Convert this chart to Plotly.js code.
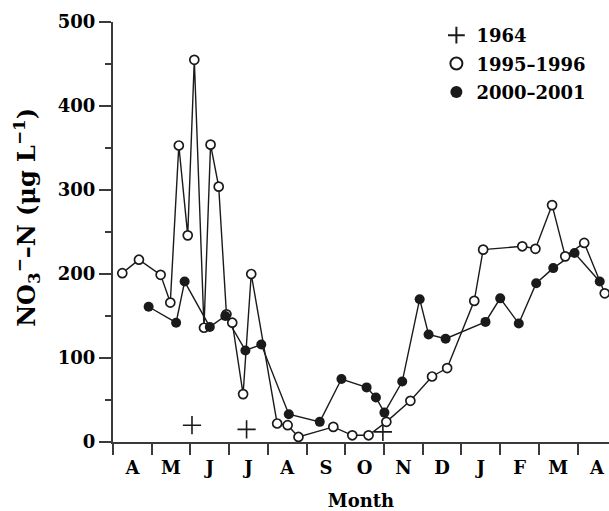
<!DOCTYPE html>
<html>
<head>
<meta charset="utf-8">
<script src="https://cdn.plot.ly/plotly-3.0.1.min.js"></script>
<style>html,body{margin:0;padding:0;background:#fff;}#chart{width:609px;height:511px;}</style>
</head>
<body>
<div id="chart"></div>
<script>
// x in months from the start of April (0 = 1 April), y in µg L-1
const monthLabels = ['A','M','J','J','A','S','O','N','D','J','F','M','A'];
const monthLabelPos = [0.5,1.5,2.5,3.5,4.5,5.5,6.5,7.5,8.5,9.5,10.5,11.5,12.5];
const monthBoundaries = [0,1,2,3,4,5,6,7,8,9,10,11,12];
const yTickVals = [0,100,200,300,400,500];
const yMinorVals = [50,150,250,350,450];

const x1964 = [2.04, 3.45, 6.97];
const y1964 = [20, 15, 12];

const x1995 = [0.24, 0.67, 1.23, 1.48, 1.70, 1.93, 2.10, 2.35, 2.52, 2.73, 2.93, 3.08, 3.36, 3.57,
               4.24, 4.51, 4.79, 5.69, 6.18, 6.60, 7.06, 7.68, 8.24, 8.63, 9.33, 9.56, 10.57, 10.91,
               11.34, 11.68, 12.17, 12.70];
const y1995 = [201, 217, 199, 166, 353, 246, 455, 136, 354, 304, 152, 142, 57, 200,
               22, 20, 6, 18, 8, 8, 24, 49, 78, 88, 168, 229, 233, 230,
               282, 221, 237, 177];

const x2000 = [0.92, 1.63, 1.85, 2.50, 2.90, 3.42, 3.83, 4.54, 5.34, 5.90, 6.55, 6.79, 7.01, 7.47,
               7.92, 8.15, 8.59, 9.62, 10.00, 10.48, 10.93, 11.37, 11.92, 12.57];
const y2000 = [161, 142, 191, 137, 150, 109, 116, 33, 24, 75, 65, 53, 35, 72,
               170, 128, 123, 143, 171, 141, 189, 207, 225, 191];

const yTitle = 'NO<sub>3</sub><sup>\u2212</sup>\u2013N (\u03bcg L<sup>\u22121</sup>)';

const FONT = 'DejaVu Serif, Liberation Serif, serif';
const INK = '#1a1a1a';
const AX = '#3a3a3a';

const traces = [
  // connecting lines (not in legend)
  {x: x2000, y: y2000, mode: 'lines', type: 'scatter', showlegend: false, hoverinfo: 'skip',
   line: {color: INK, width: 1.4}},
  {x: x1995, y: y1995, mode: 'lines', type: 'scatter', showlegend: false, hoverinfo: 'skip',
   line: {color: INK, width: 1.4}},
  // markers (legend entries)
  {x: x1964, y: y1964, name: '1964', mode: 'markers', type: 'scatter', legendgroup: 'a',
   marker: {symbol: 'cross-thin', size: 13, color: INK, line: {color: INK, width: 1.6}}},
  {x: x1995, y: y1995, name: '1995\u20131996', mode: 'markers', type: 'scatter', legendgroup: 'b',
   marker: {symbol: 'circle', size: 9, color: '#ffffff', line: {color: INK, width: 1.7}}},
  {x: x2000, y: y2000, name: '2000\u20132001', mode: 'markers', type: 'scatter', legendgroup: 'c',
   marker: {symbol: 'circle', size: 10, color: INK, line: {color: INK, width: 0}}}
];

const layout = {
  width: 609, height: 511,
  margin: {l: 113, r: 0, t: 22, b: 69},
  paper_bgcolor: '#ffffff', plot_bgcolor: '#ffffff',
  font: {family: FONT, size: 18, color: '#000', weight: 'bold'},
  showlegend: true,
  legend: {x: 0.652, y: 1.012, xanchor: 'left', yanchor: 'top', bgcolor: 'rgba(0,0,0,0)',
           traceorder: 'grouped', tracegroupgap: 2, itemsizing: 'constant',
           font: {family: FONT, size: 18, color: '#000', weight: 'bold'}},
  xaxis: {
    range: [0, 12.81], showgrid: false, zeroline: false,
    showline: true, linecolor: AX, linewidth: 2,
    tickmode: 'array', tickvals: monthLabelPos, ticktext: monthLabels, ticks: '',
    ticklabelstandoff: 8,
    minor: {tickmode: 'array', tickvals: monthBoundaries, ticks: 'outside', ticklen: 11, tickwidth: 2, tickcolor: AX},
    tickfont: {family: FONT, size: 18, color: '#000', weight: 'bold'},
    title: {text: 'Month', font: {family: FONT, size: 18, color: '#000', weight: 'bold'}, standoff: 24}
  },
  yaxis: {
    range: [0, 500], showgrid: false, zeroline: false,
    showline: true, linecolor: AX, linewidth: 2,
    tickmode: 'array', tickvals: yTickVals, ticks: 'outside', ticklen: 12, tickwidth: 2, tickcolor: AX,
    minor: {tickmode: 'array', tickvals: yMinorVals, ticks: 'outside', ticklen: 6, tickwidth: 2, tickcolor: AX},
    tickfont: {family: FONT, size: 18, color: '#000', weight: 'bold'}
  },
  annotations: [
    {text: yTitle, xref: 'paper', yref: 'paper', x: -0.1734, y: 0.536,
     xanchor: 'center', yanchor: 'middle', textangle: -90, showarrow: false,
     font: {family: FONT, size: 24, color: '#000', weight: 'bold'}}
  ]
};

Plotly.newPlot('chart', traces, layout, {displayModeBar: false, staticPlot: true});
</script>
</body>
</html>
